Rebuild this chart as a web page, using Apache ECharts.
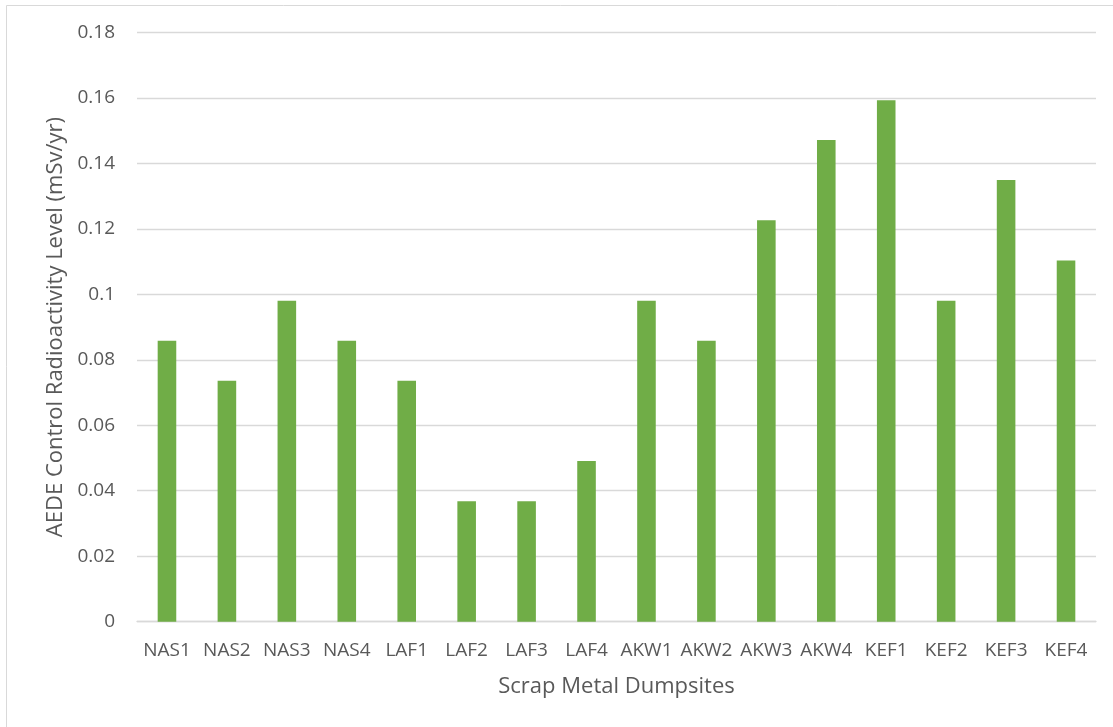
<!DOCTYPE html>
<html>
<head>
<meta charset="utf-8">
<script src="https://cdn.jsdelivr.net/npm/echarts@6/dist/echarts.min.js"></script>
<style>
html,body{margin:0;padding:0;background:#fff;}
#c{width:1113px;height:727px;}
</style>
</head>
<body>
<div id="c"></div>
<script>
var categories = ['NAS1','NAS2','NAS3','NAS4','LAF1','LAF2','LAF3','LAF4','AKW1','AKW2','AKW3','AKW4','KEF1','KEF2','KEF3','KEF4'];
var aedeValues = [0.0858,0.0736,0.0980,0.0858,0.0736,0.0368,0.0368,0.0491,0.0980,0.0858,0.1226,0.1471,0.1593,0.0980,0.1349,0.1103];
var yTicks = {min: 0, max: 0.18, interval: 0.02};
var xTitle = 'Scrap Metal Dumpsites';
var yTitle = 'AEDE Control Radioactivity Level (mSv/yr)';

var chart = echarts.init(document.getElementById('c'));
var font = '"Open Sans", "Noto Sans", sans-serif';
chart.setOption({
  backgroundColor: '#ffffff',
  animation: false,
  graphic: [{
    type: 'rect',
    shape: {x: 6.5, y: 5.5, width: 1200, height: 800},
    style: {fill: 'none', stroke: '#d9d9d9', lineWidth: 1},
    silent: true
  }],
  grid: {left: 137, right: 17, top: 32.4, bottom: 105.3, containLabel: false},
  xAxis: {
    type: 'category',
    data: categories,
    name: xTitle,
    nameLocation: 'middle',
    nameGap: 54,
    nameTextStyle: {fontFamily: font, fontSize: 22, color: '#595959'},
    axisLine: {lineStyle: {color: '#d9d9d9', width: 1.3}},
    axisTick: {show: false},
    axisLabel: {fontFamily: font, fontSize: 19, color: '#595959', margin: 19, interval: 0}
  },
  yAxis: {
    type: 'value',
    min: yTicks.min,
    max: yTicks.max,
    interval: yTicks.interval,
    name: yTitle,
    nameLocation: 'middle',
    nameGap: 70,
    nameRotate: 90,
    nameTextStyle: {fontFamily: font, fontSize: 22, color: '#595959'},
    axisLine: {show: false},
    axisTick: {show: false},
    axisLabel: {fontFamily: font, fontSize: 19, color: '#595959', margin: 22},
    splitLine: {lineStyle: {color: '#d9d9d9', width: 1.3}}
  },
  series: [{
    type: 'bar',
    data: aedeValues,
    barWidth: '31%',
    itemStyle: {color: '#70ad47'}
  }]
});
</script>
</body>
</html>
